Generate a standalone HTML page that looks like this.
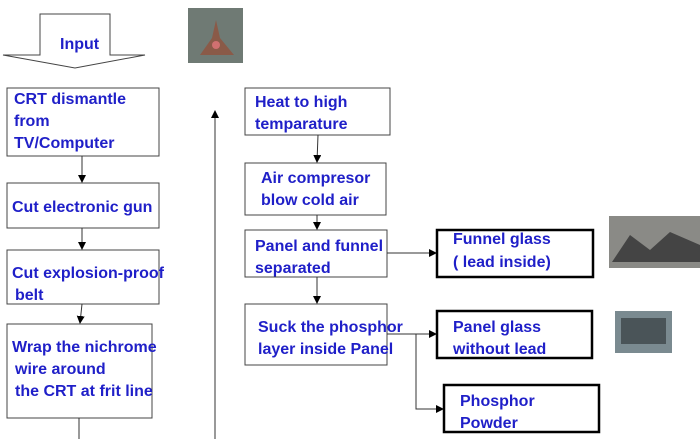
<!DOCTYPE html>
<html><head><style>body{margin:0;background:#fff}svg{display:block}text{font-family:"Liberation Sans",sans-serif;font-weight:bold;font-size:16px;fill:#1f1fc8}</style></head><body>
<svg width="700" height="439" viewBox="0 0 700 439">
<defs><marker id="a" markerWidth="8" markerHeight="8" refX="7" refY="4" orient="auto" markerUnits="userSpaceOnUse"><path d="M0,0 L8,4 L0,8z" fill="#000"/></marker></defs>
<g fill="none" stroke="#444" stroke-width="1">
<path d="M40,55 V14 H110 V55 H145 L75,68 L3,55 Z" fill="#fff"/>
<rect x="7" y="88" width="152" height="68"/>
<rect x="7" y="183" width="152" height="45"/>
<rect x="7" y="250" width="152" height="54"/>
<rect x="7" y="324" width="145" height="94"/>
<rect x="245" y="88" width="145" height="47"/>
<rect x="245" y="163" width="141" height="52"/>
<rect x="245" y="230" width="142" height="47"/>
<rect x="245" y="304" width="142" height="61"/>
</g>
<g fill="none" stroke="#000" stroke-width="2.5">
<rect x="437" y="230" width="156" height="47"/>
<rect x="437" y="311" width="155" height="47"/>
<rect x="444" y="385" width="155" height="47"/>
</g>
<g stroke="#333" stroke-width="1" fill="none">
<line x1="82" y1="156" x2="82" y2="182" marker-end="url(#a)"/>
<line x1="82" y1="228" x2="82" y2="249" marker-end="url(#a)"/>
<line x1="82" y1="304" x2="80" y2="323" marker-end="url(#a)"/>
<line x1="79" y1="418" x2="79" y2="439"/>
<line x1="215" y1="439" x2="215" y2="111" marker-end="url(#a)"/>
<line x1="318" y1="135" x2="317" y2="162" marker-end="url(#a)"/>
<line x1="317" y1="215" x2="317" y2="229" marker-end="url(#a)"/>
<line x1="317" y1="277" x2="317" y2="303" marker-end="url(#a)"/>
<line x1="387" y1="253" x2="436" y2="253" marker-end="url(#a)"/>
<line x1="387" y1="334" x2="436" y2="334" marker-end="url(#a)"/>
<polyline points="416,334 416,409 443,409" marker-end="url(#a)"/>
</g>
<text x="60" y="49">Input</text>
<text x="14" y="104">CRT dismantle</text>
<text x="14" y="126">from</text>
<text x="14" y="148">TV/Computer</text>
<text x="12" y="212">Cut electronic gun</text>
<text x="12" y="278">Cut explosion-proof</text>
<text x="15" y="300">belt</text>
<text x="12" y="352">Wrap the nichrome</text>
<text x="15" y="374">wire around</text>
<text x="15" y="396">the CRT at frit line</text>
<text x="255" y="107">Heat to high</text>
<text x="255" y="129">temparature</text>
<text x="261" y="183">Air compresor</text>
<text x="261" y="205">blow cold air</text>
<text x="255" y="251">Panel and funnel</text>
<text x="255" y="273">separated</text>
<text x="258" y="332">Suck the phosphor</text>
<text x="258" y="354">layer inside Panel</text>
<text x="453" y="244">Funnel glass</text>
<text x="453" y="267">( lead inside)</text>
<text x="453" y="332">Panel glass</text>
<text x="453" y="354">without lead</text>
<text x="460" y="406">Phosphor</text>
<text x="460" y="428">Powder</text>
<rect x="188" y="8" width="55" height="55" fill="#6f7a74"/>
<path d="M200,55 L212,38 L216,20 L220,38 L234,55 Z" fill="#8a5a48"/>
<circle cx="216" cy="45" r="4" fill="#d07070"/>
<rect x="609" y="216" width="91" height="52" fill="#8a8a86"/>
<path d="M612,262 L630,235 L650,250 L670,232 L700,245 L700,262 Z" fill="#444"/>
<rect x="615" y="311" width="57" height="42" fill="#7a8a90"/>
<rect x="621" y="318" width="45" height="26" fill="#4a5458"/>
</svg></body></html>
